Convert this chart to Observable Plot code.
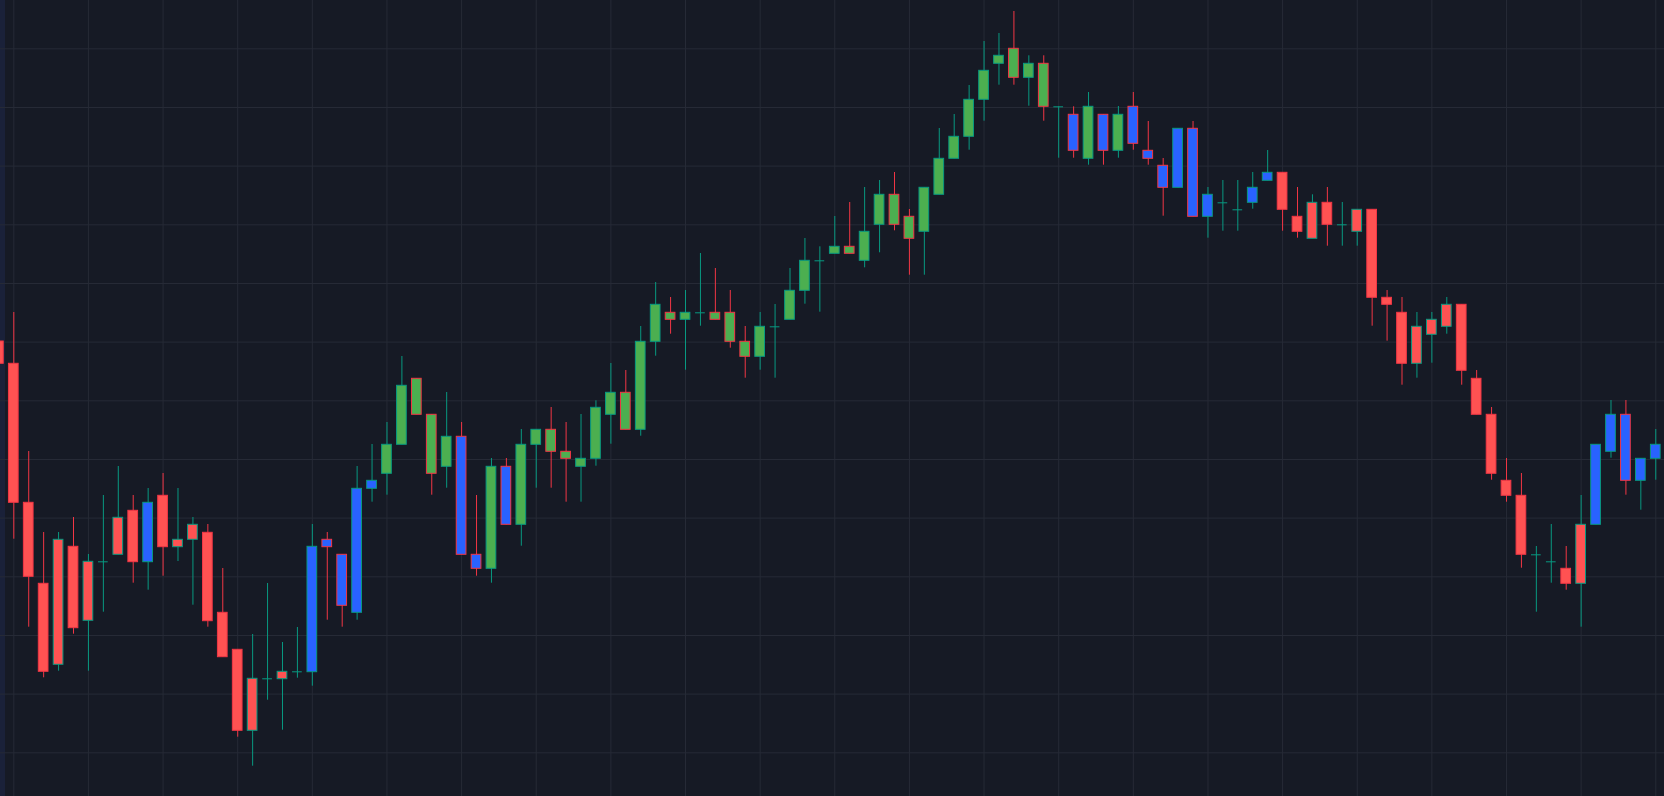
<!DOCTYPE html>
<html><head><meta charset="utf-8">
<script src="https://cdn.jsdelivr.net/npm/d3@7"></script>
<script src="https://cdn.jsdelivr.net/npm/@observablehq/plot@0.6"></script>
<style>
html,body{margin:0;padding:0;background:#161a25;overflow:hidden}
#wrap{position:relative;width:1664px;height:796px}
#strip{position:absolute;left:0;top:0;width:5px;height:796px;background:#1a2139}
#chart{position:absolute;left:0;top:0}
</style></head><body>
<div id="wrap"><div id="strip"></div><div id="chart"></div></div>
<script>
// candle index of the first entry (partially visible at the left edge)
const firstIndex = -1;

const opens = [459,436.7,297.7,216.7,135.7,253.7,179.7,238.7,245.7,289.7,238.3,
304.7,253.3,260.7,267.7,187.7,150.7,69.7,121.7,121.3,128.7,
128.3,260.7,245.7,187.7,311.7,326.7,355.7,421.7,385.7,333.7,
363.7,245.7,231.7,333.7,275.7,355.7,370.7,348.7,333.7,341.7,
385.7,407.7,370.7,458.7,487.7,480.7,487.7,487.7,487.7,458.7,
443.7,473.7,480.7,509.7,539.7,546.7,553.7,539.7,575.7,605.7,
583.7,568.7,605.7,641.7,663.7,700.7,736.7,751.7,722.7,736.7,
693.7,685.7,641.7,685.7,649.7,693.7,649.7,634.7,612.7,671.7,
583.7,597.7,590.7,597.7,619.7,627.7,583.7,561.7,597.7,575.7,
568.7,590.7,502.7,487.7,436.7,465.7,473.7,495.7,421.7,385.7,
319.7,304.7,245.7,238.7,231.7,216.7,275.7,348.7,385.7,319.7,341.7];

const highs = [459,488,349,268,268,283,246,305,334,305,312,
327,312,283,276,232,150.7,166,217,158,173,
276,268,245.7,334,356,378,444,421.7,385.7,408,
378,305,342,342,371,370.7,393,378,386,399.7,
437,430,474,518,503,510,547,532,510,474,
488,496,532,562,553.7,584,598,613,620,628,
591,612.7,672,686,715,759,767,789,744.7,744.7,
693.7,693.7,708,685.7,694,708,679,642,671.7,679,
613,620,620,628,650,627.7,613,605.7,613,598,
590.7,590.7,510,503,488,488,503,495.7,430,393,
342,327,254,276,254,305,355.7,400,400,341.7,371];

const lows = [436.7,261.3,173.3,122.7,129.3,166.3,129.3,188.3,245.7,217.3,210.3,
224.3,239,195.3,173.3,143.3,63.3,34.3,100.3,70.3,122.3,
114.3,180.3,173.3,180.3,298.3,305.3,355.7,385.7,305.3,312.3,
245.7,224.3,217.3,275.7,254.3,312.3,312.3,298.3,298.3,334.3,
356.3,370.7,364.3,444.3,466.3,430.3,474.3,480.7,452.3,422.3,
430.3,422.3,480.7,496.3,488.3,546.7,546.7,532.7,547.7,569.7,
525.3,525.3,605.7,641.7,650.3,679.3,715.3,715.3,694.3,679.3,
642.3,642.3,635.3,635.3,642.3,650.3,635.3,584.3,612.7,583.7,
562.3,569.3,569.3,591.3,619.7,569.3,562.3,561.7,554.3,554.3,
554.3,474.3,459.3,415.3,422.3,437.3,466.3,415.3,385.7,320.3,
298.3,232.3,188.3,217.3,210.3,173.3,275.7,342.3,305.3,290.3,320.3];

const closes = [436.7,297.7,223.7,128.7,260.7,172.3,238.7,238.7,282.7,238.3,297.7,
253.3,260.7,275.7,179.3,143.3,69.7,121.7,121.7,128.7,128.7,
253.7,253.3,194.7,311.7,319.7,355.7,414.7,385.7,326.7,363.7,
245.7,231.7,333.7,275.7,355.7,370.7,348.7,341.7,341.7,392.7,
407.7,370.7,458.7,495.7,480.7,487.7,487.7,480.7,458.7,443.7,
473.7,473.7,509.7,539.7,539.7,553.7,546.7,568.7,605.7,575.7,
561.7,612.7,641.7,663.7,700.7,729.7,744.7,722.7,736.7,693.7,
693.7,649.7,693.7,649.7,685.7,656.7,641.7,612.7,671.7,583.7,
605.7,597.7,590.7,612.7,627.7,590.7,568.7,597.7,575.7,575.7,
590.7,502.7,495.7,436.7,473.7,480.7,495.7,429.7,385.7,326.7,
304.7,245.7,245.7,238.7,216.7,275.7,355.7,385.7,319.7,341.7,355.7];

// body fill class per candle: r = red, g = green, b = blue, - = doji
const fills = ("rrrrrrr-rrb" + "rrrrrrr-r-" + "bbbbbggggg" + "bbgbgggggg" + "gggggg-ggg" +
  "g-gg-ggggg" + "gggggggggg" + "-bgbgbbbbb" + "b--bbrrrr-" + "rrrrrrrrrr" + "rr--rrbbbbb").split("");

// grid positions (price levels and candle indices)
const gridY = [751.7,693.0,634.4,575.7,517.0,458.4,399.7,341.0,282.4,223.7,165.0,106.4,47.7];
const gridX = [0,5,10,15,20,25,30,35,40,45,50,55,60,65,70,75,80,85,90,95,100,105,110];

const UP = "#089981", DOWN = "#f23645";
const FILL = {r: "#ff5252", g: "#4caf50", b: "#2962ff"};
const GRID = "#262a36";

const data = opens.map((o, k) => ({i: firstIndex + k, o, h: highs[k], l: lows[k], c: closes[k], f: fills[k]}));
const bodies = data.filter(d => d.o !== d.c);
const dojis = data.filter(d => d.o === d.c);
const half = 0.325;

const chart = Plot.plot({
  width: 1664, height: 796, margin: 0,
  x: {domain: [-0.891, 110.585], axis: null},
  y: {domain: [4, 800], axis: null},
  color: {type: "identity"},
  style: {background: "transparent"},
  marks: [
    Plot.ruleX(gridX, {stroke: GRID, strokeWidth: 1}),
    Plot.ruleY(gridY, {stroke: GRID, strokeWidth: 1}),
    Plot.ruleX(data, {x: "i", y1: "l", y2: "h", stroke: d => d.c >= d.o ? UP : DOWN, strokeWidth: 1}),
    Plot.rect(bodies, {x1: d => d.i - half, x2: d => d.i + half, y1: "o", y2: "c",
      fill: d => FILL[d.f], stroke: d => d.c > d.o ? UP : DOWN, strokeWidth: 1}),
    Plot.ruleY(dojis, {y: "o", x1: d => d.i - half, x2: d => d.i + half, stroke: UP, strokeWidth: 1})
  ]
});
document.getElementById("chart").appendChild(chart);
</script>
</body></html>
